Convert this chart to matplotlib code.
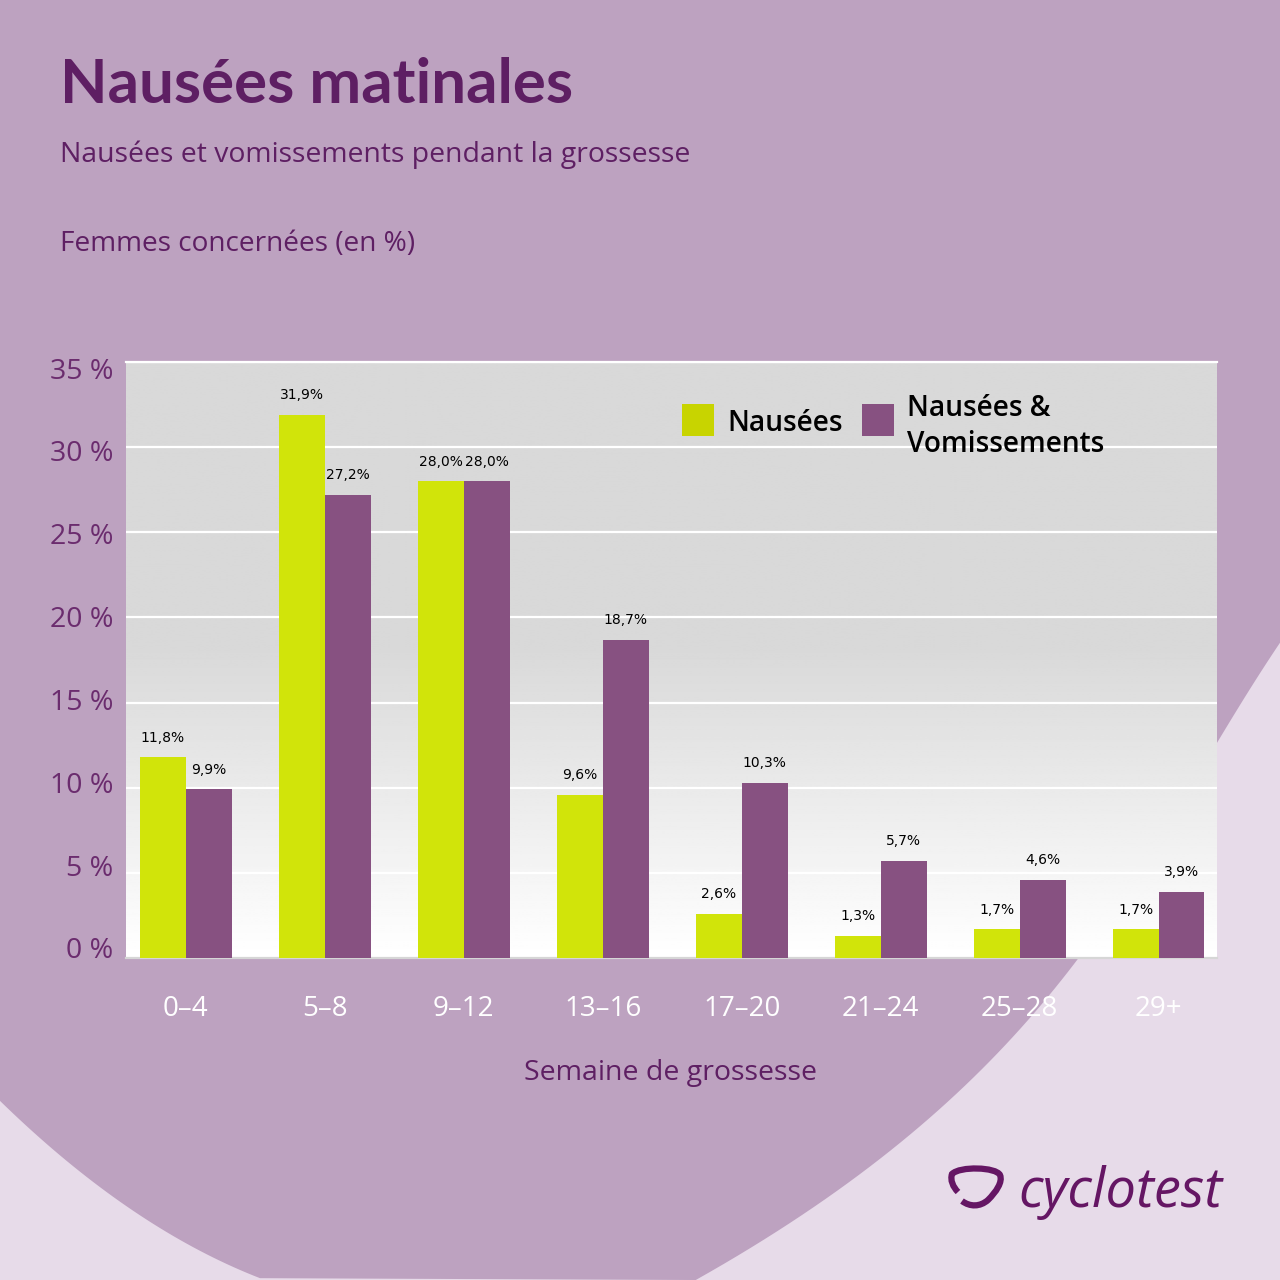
import numpy as np
import matplotlib.pyplot as plt
from matplotlib.patches import Polygon, Rectangle, PathPatch
from matplotlib.path import Path

# data
weeks = ['0–4', '5–8', '9–12', '13–16', '17–20', '21–24', '25–28', '29+']
nausees = [11.8, 31.9, 28.0, 9.6, 2.6, 1.3, 1.7, 1.7]
nausees_vom = [9.9, 27.2, 28.0, 18.7, 10.3, 5.7, 4.6, 3.9]
y_ticks = [0, 5, 10, 15, 20, 25, 30, 35]
y_labels = [f'{t} %' for t in y_ticks]

W = H = 1280
def fx(x):
    return x / W
def fy(y):
    return 1 - y / H

green = '#d1e40a'
purple = '#875181'
dark_bg = '#bda2c0'
light_bg = '#e7dbe9'
text_purple = '#5e1f63'
tick_purple = '#6b2c6e'

plt.rcParams['font.family'] = ['Open Sans', 'DejaVu Sans']

fig = plt.figure(figsize=(12.8, 12.8), dpi=100, facecolor=light_bg)

# big lavender blob behind everything: smooth curves through edge points
ry = np.array([640, 750, 960, 1103, 1147, 1197, 1280])
rx = np.array([1280, 1217, 1072, 947, 897, 830, 694])
lx = np.array([0, 100, 200, 260])
ly = np.array([1100, 1190, 1247, 1280])
ys = np.linspace(640, 1280, 80)
xs_r = np.polyval(np.polyfit(ry, rx, 3), ys)
xs_l = np.linspace(260, 0, 40)
ys_l = np.polyval(np.polyfit(lx, ly, 2), xs_l)
blob = [(0, 0), (1280, 0)] + list(zip(xs_r, ys)) + list(zip(xs_l, ys_l))
fig.patches.append(Polygon([(fx(a), fy(b)) for a, b in blob], closed=True,
                           transform=fig.transFigure, facecolor=dark_bg,
                           edgecolor='none', zorder=-10))

ax = fig.add_axes([fx(126), fy(958), (1217 - 126) / W, (958 - 362) / H])
ax.set_zorder(1)
x = np.arange(len(weeks))
w = 0.33
xlim = (-0.43, len(weeks) - 1 + 0.42)

# grey-to-white gradient in the plot area
yy = np.linspace(0, 35, 300)
shade = np.where(yy > 18, 217, 255 - 38 * yy / 18) / 255
ax.imshow(np.repeat(shade[:, None], 2, axis=1), cmap='gray', vmin=0, vmax=1,
          extent=[xlim[0], xlim[1], 0, 35], origin='lower', aspect='auto', zorder=0)

ax.bar(x - w / 2, nausees, w, color=green, zorder=3)
ax.bar(x + w / 2, nausees_vom, w, color=purple, zorder=3)

for xi, v in zip(x - w / 2, nausees):
    ax.annotate(f'{v:.1f}%'.replace('.', ','), (xi, v), xytext=(0, 9),
                textcoords='offset points', ha='center', va='bottom',
                fontsize=10, family='DejaVu Sans', color='black')
for xi, v in zip(x + w / 2, nausees_vom):
    ax.annotate(f'{v:.1f}%'.replace('.', ','), (xi, v), xytext=(0, 9),
                textcoords='offset points', ha='center', va='bottom',
                fontsize=10, family='DejaVu Sans', color='black')

ax.set_xlim(*xlim)
ax.set_ylim(0, 35)
ax.set_axisbelow(True)
ax.yaxis.grid(True, color='white', lw=1.6)
ax.set_yticks(y_ticks, [])
ax.set_xticks(x, weeks)
ax.tick_params(axis='y', length=0)
ax.tick_params(axis='x', length=0, pad=27, labelsize=20, labelcolor='white')
for s in ['left', 'right']:
    ax.spines[s].set_visible(False)
ax.spines['top'].set_color('white')
ax.spines['top'].set_linewidth(1.6)
ax.spines['bottom'].set_color('#d6d6d6')
ax.spines['bottom'].set_linewidth(1.6)

# y labels sit on a slightly tighter scale than the grid in the original
lab = fig.add_axes([fx(126), fy(948), 0.01, (948 - 368) / H])
lab.set_ylim(0, 35)
lab.set_yticks(y_ticks, y_labels)
lab.set_xticks([])
lab.tick_params(axis='y', length=0, pad=9, labelsize=20.5, labelcolor=tick_purple)
lab.patch.set_visible(False)
for s in lab.spines.values():
    s.set_visible(False)

# titles
fig.text(fx(60), fy(103), 'Nausées matinales', fontsize=44.5, fontweight='bold',
         family='Lato', color=text_purple, va='baseline')
fig.text(fx(60), fy(162), 'Nausées et vomissements pendant la grossesse',
         fontsize=20.4, color=text_purple, va='baseline')
fig.text(fx(60), fy(251), 'Femmes concernées (en %)', fontsize=20.2,
         color=text_purple, va='baseline')
fig.text(fx(671), fy(1080), 'Semaine de grossesse', fontsize=20.5,
         color=text_purple, va='baseline', ha='center')

# legend
fig.patches.append(Rectangle((fx(682), fy(436)), 32 / W, 32 / H, transform=fig.transFigure,
                             facecolor='#c8d400', edgecolor='none', zorder=5))
fig.patches.append(Rectangle((fx(862), fy(436)), 32 / W, 32 / H, transform=fig.transFigure,
                             facecolor=purple, edgecolor='none', zorder=5))
fig.text(fx(727), fy(431), 'Nausées', fontsize=20.2, fontweight='semibold',
         color='black', va='baseline', zorder=5)
fig.text(fx(907), fy(416), 'Nausées &', fontsize=20.2, fontweight='semibold',
         color='black', va='baseline', zorder=5)
fig.text(fx(907), fy(452), 'Vomissements', fontsize=20.2, fontweight='semibold',
         color='black', va='baseline', zorder=5)

# logo
logo = '#651664'
icon = [(962, 1201), (970, 1207), (980, 1207), (988, 1200),
        (996, 1192), (1003, 1182), (1000, 1175),
        (996, 1167), (960, 1166), (952, 1174),
        (950, 1180), (953, 1187), (958, 1192)]
codes = [Path.MOVETO] + [Path.CURVE4] * 12
ipath = Path([(fx(a), fy(b)) for a, b in icon], codes)
fig.patches.append(PathPatch(ipath, transform=fig.transFigure, facecolor='none',
                             edgecolor=logo, lw=4.5, capstyle='butt', zorder=5))
fig.text(fx(1018), fy(1207), 'cyclotest', fontsize=39, style='italic',
         family=['Liberation Sans Narrow', 'Open Sans'], color=logo, va='baseline')

fig.savefig('out.png', dpi=100, facecolor=light_bg)
